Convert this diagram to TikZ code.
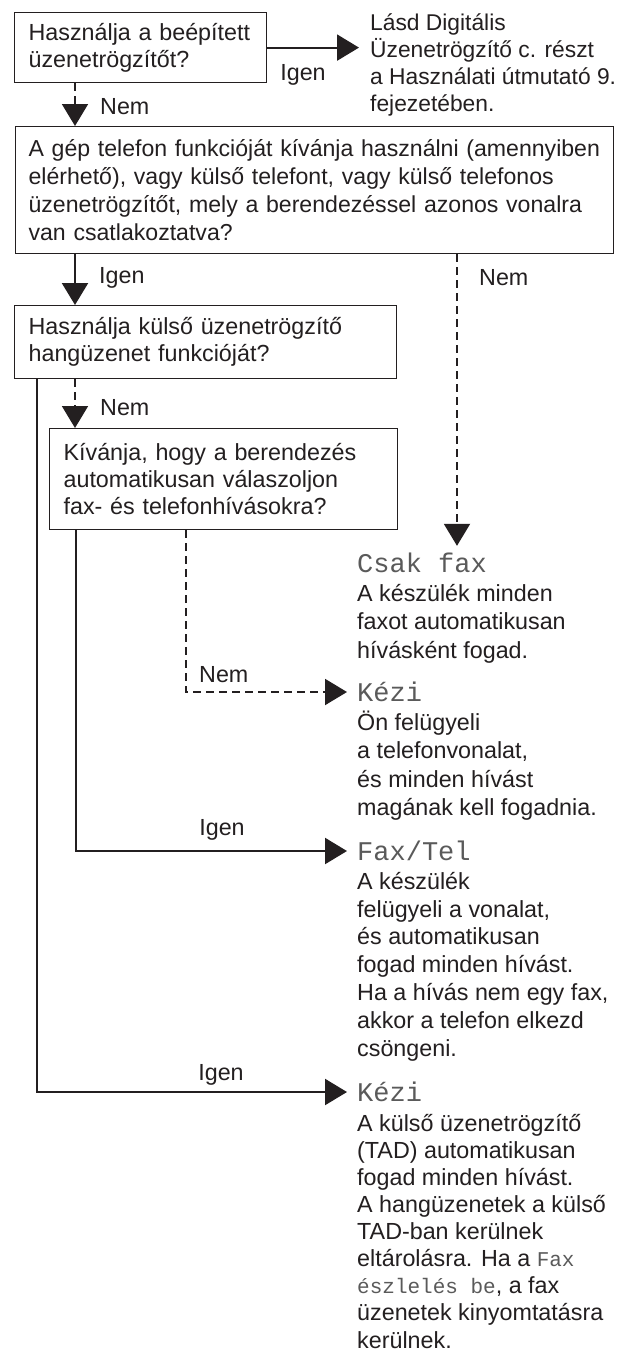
\documentclass[tikz,border=0pt]{standalone}
\usepackage{fontspec}
\setmainfont{Liberation Sans}
\newfontfamily\lcdfont{Liberation Mono}
\usetikzlibrary{arrows.meta}
\definecolor{ink}{HTML}{231F20}
\definecolor{lcdgray}{HTML}{5A5A5A}
\newcommand{\lcdtxt}[1]{{\lcdfont\fontsize{21}{21}\selectfont\color{lcdgray}#1}}
\newcommand{\fl}{\rule{0pt}{22pt}}
\begin{document}
\begin{tikzpicture}[x=1pt,y=-1pt,
  every node/.style={text=ink},
  qbox/.style={draw=ink, line width=1.2pt, inner xsep=14pt, inner ysep=0pt, align=left, anchor=north west, font=\fontsize{23.3}{27}\selectfont},
  lbl/.style={inner sep=0pt, font=\fontsize{23.3}{27}\selectfont},
  desc/.style={inner sep=0pt, anchor=north west, align=left, font=\fontsize{23.3}{28.5}\selectfont},
  hdr/.style={inner xsep=10pt, inner ysep=0pt, anchor=west, text=lcdgray, font=\lcdfont\fontsize{27}{28}\selectfont},
  solidarr/.style={draw=ink, line width=2.2pt, -{Triangle[length=22pt,width=26pt]}},
  dasharr/.style={draw=ink, line width=2pt, dash pattern=on 8pt off 5pt, -{Triangle[length=22pt,width=26pt]}},
]
\useasboundingbox (0,0) rectangle (618,1355);
\fill[white] (0,0) rectangle (618,1355);

% question boxes
\node[qbox, minimum width=252pt, minimum height=70pt, text width=224pt] (b1) at (14,12)
  {Használja a beépített\\üzenetrögzítőt?};
\node[qbox, inner xsep=13pt, minimum width=598pt, minimum height=127pt, text width=572pt,
  font=\fontsize{23.1}{27.8}\selectfont] (b2) at (15,126)
  {\mbox{A gép telefon funkcióját kívánja használni (amennyiben}\\\mbox{elérhető), vagy külső telefont, vagy külső telefonos}\\\mbox{üzenetrögzítőt, mely a berendezéssel azonos vonalra}\\van csatlakoztatva?};
\node[qbox, minimum width=382pt, minimum height=73pt, text width=354pt] (b3) at (14,305)
  {Használja külső üzenetrögzítő\\hangüzenet funkcióját?};
\node[qbox, minimum width=348pt, minimum height=101pt, text width=320pt] (b4) at (49,428)
  {Kívánja, hogy a berendezés\\automatikusan válaszoljon\\fax- és telefonhívásokra?};

% outcome texts
\node[desc, inner xsep=11pt, font=\fontsize{22.8}{27}\selectfont] (lasd) at (359,8)
  {\fl Lásd Digitális\\Üzenetrögzítő c. részt\\a Használati útmutató 9.\\fejezetében.};
\node[hdr, minimum height=34pt] (csak) at (347,563) {Csak fax};
\node[desc] (csakd) at (357,579) {\fl A készülék minden\\faxot automatikusan\\hívásként fogad.};
\node[hdr] (kezi1) at (347,692) {Kézi};
\node[desc] (kezi1d) at (357,708) {\fl Ön felügyeli\\a telefonvonalat,\\és minden hívást\\magának kell fogadnia.};
\node[hdr] (faxtel) at (347,851) {Fax/Tel};
\node[desc, font=\fontsize{23.3}{27.8}\selectfont] (faxteld) at (357,867) {\fl A készülék\\felügyeli a vonalat,\\és automatikusan\\fogad minden hívást.\\Ha a hívás nem egy fax,\\akkor a telefon elkezd\\csöngeni.};
\node[hdr] (kezi2) at (347,1092) {Kézi};
\node[desc, font=\fontsize{23.3}{27.1}\selectfont] (kezi2d) at (357,1109) {\fl A külső üzenetrögzítő\\(TAD) automatikusan\\fogad minden hívást.\\A hangüzenetek a külső\\TAD-ban kerülnek\\eltárolásra. Ha a \lcdtxt{Fax}\\\lcdtxt{észlelés be}, a fax\\üzenetek kinyomtatásra\\kerülnek.};

% connector x positions
\coordinate (xa) at (75,0);
\coordinate (xl) at (37,0);
\coordinate (xs) at (76,0);
\coordinate (xd) at (186,0);
\coordinate (xn) at (457,0);

% connectors
\draw[solidarr] (b1.east) -- (b1.east -| lasd.west);
\draw[dasharr] (b1.south -| xa) -- (b2.north -| xa);
\draw[solidarr] (b2.south -| xa) -- (b3.north -| xa);
\draw[dasharr] (b2.south -| xn) -- (csak.north -| xn);
\draw[dasharr] (b3.south -| xa) -- (b4.north -| xa);
\draw[solidarr] (b3.south -| xl) |- (kezi2.west);
\draw[solidarr] (b4.south -| xs) |- (faxtel.west);
\draw[dasharr] (b4.south -| xd) |- (kezi1.west);

% labels
\node[lbl] (l1) at (303,75) {Igen};
\node[lbl, anchor=west] (l2) at (100,107) {Nem};
\node[lbl, anchor=west] (l3) at (99,278) {Igen};
\node[lbl, anchor=west] (l4) at (479,278) {Nem};
\node[lbl, anchor=west] (l5) at (100,408) {Nem};
\node[lbl, anchor=west] (l6) at (199,675) {Nem};
\node[lbl] (l7) at (222,830) {Igen};
\node[lbl] (l8) at (221,1075) {Igen};
\end{tikzpicture}
\end{document}
